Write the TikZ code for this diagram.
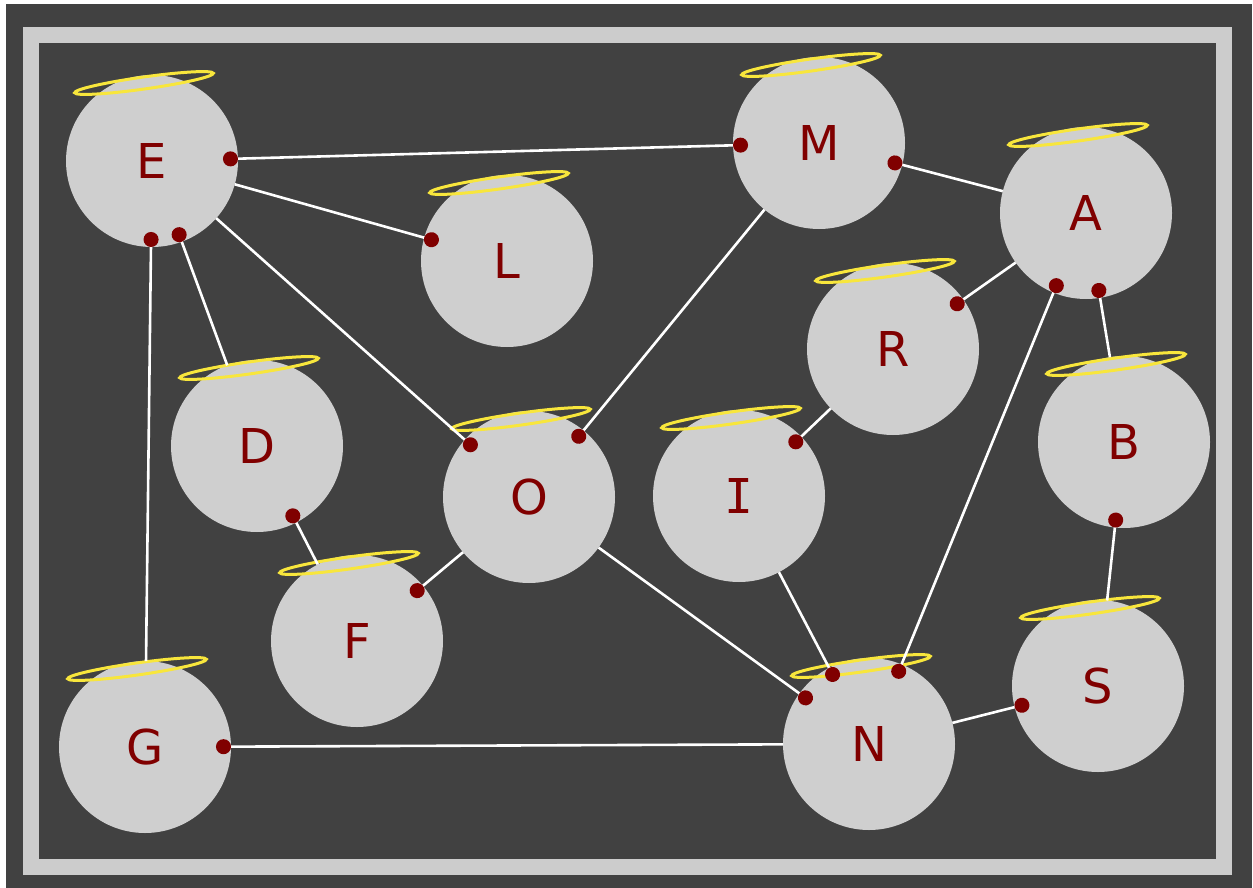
\documentclass[tikz,border=0pt]{standalone}
\usepackage{fontspec}
\setmainfont{DejaVu Sans}
\newfontfamily\serifletter{DejaVu Sans Mono}
\usetikzlibrary{arrows.meta}
\definecolor{bgdark}{RGB}{65,65,65}
\definecolor{framegray}{RGB}{204,204,204}
\definecolor{vertgray}{RGB}{207,207,207}
\definecolor{darkred}{RGB}{128,0,0}
\definecolor{halogold}{RGB}{248,230,60}
\tikzstyle{vert}=[circle, fill=vertgray, minimum size=172pt, inner sep=0pt, outer sep=0pt, text=darkred, font=\fontsize{48}{50}\selectfont]
\tikzstyle{halo}=[draw=halogold, line width=3pt]
\tikzstyle{conn}=[draw=white, line width=2.6pt]
\tikzstyle{todot}=[conn, ->, shorten >=-15pt]
\tikzstyle{bothdot}=[conn, <->, shorten >=-15pt, shorten <=-15pt]

\begin{document}
\begin{tikzpicture}[x=1pt, y=-1pt, >={Circle[length=15pt, color=darkred]}]
\useasboundingbox (0,0) rectangle (1253,888);
\fill[white] (0,0) rectangle (1253,888);
\fill[bgdark] (6,4) rectangle (1252,888);
\draw[framegray, line width=16pt] (31,35) rectangle (1224,867);
% vertices
\node[vert] (vE) at (152,161) {E};
\node[vert] (vM) at (819,143) {M};
\node[vert] (vA) at (1086,213) {A};
\node[vert] (vL) at (507,261) {L};
\node[vert] (vR) at (893,349) {R};
\node[vert] (vD) at (257,446) {D};
\node[vert] (vO) at (529,497) {O};
\node[vert, font=\serifletter\fontsize{48}{50}\selectfont] (vI) at (739,496) {I};
\node[vert] (vB) at (1124,442) {B};
\node[vert] (vF) at (357,641) {F};
\node[vert] (vG) at (145,747) {G};
\node[vert] (vN) at (869,744) {N};
\node[vert] (vS) at (1098,686) {S};
% halos
\draw[halo] (144,83) ellipse [x radius=70pt, y radius=6pt, rotate=8];
\draw[halo] (811,65) ellipse [x radius=70pt, y radius=6pt, rotate=8];
\draw[halo] (1078,135) ellipse [x radius=70pt, y radius=6pt, rotate=8];
\draw[halo] (499,183) ellipse [x radius=70pt, y radius=6pt, rotate=8];
\draw[halo] (885,271) ellipse [x radius=70pt, y radius=6pt, rotate=8];
\draw[halo] (249,368) ellipse [x radius=70pt, y radius=6pt, rotate=8];
\draw[halo] (521,419) ellipse [x radius=70pt, y radius=6pt, rotate=8];
\draw[halo] (731,418) ellipse [x radius=70pt, y radius=6pt, rotate=8];
\draw[halo] (1116,364) ellipse [x radius=70pt, y radius=6pt, rotate=8];
\draw[halo] (349,563) ellipse [x radius=70pt, y radius=6pt, rotate=8];
\draw[halo] (137,669) ellipse [x radius=70pt, y radius=6pt, rotate=8];
\draw[halo] (861,666) ellipse [x radius=70pt, y radius=6pt, rotate=8];
\draw[halo] (1090,608) ellipse [x radius=70pt, y radius=6pt, rotate=8];
% connections
\draw[bothdot] (vE) -- (vM);
\draw[todot] (vE) -- (vL);
\draw[todot] (vE) -- (vO);
\draw[todot] (vD) -- (vE);
\draw[todot] (vG) -- (vE);
\draw[todot] (vM) -- (vO);
\draw[todot] (vA) -- (vM);
\draw[todot] (vA) -- (vR);
\draw[bothdot] (vA) -- (vN);
\draw[todot] (vB) -- (vA);
\draw[todot] (vR) -- (vI);
\draw[todot] (vS) -- (vB);
\draw[todot] (vF) -- (vD);
\draw[todot] (vO) -- (vF);
\draw[todot] (vO) -- (vN);
\draw[todot] (vI) -- (vN);
\draw[todot] (vN) -- (vG);
\draw[todot] (vN) -- (vS);
\end{tikzpicture}
\end{document}
